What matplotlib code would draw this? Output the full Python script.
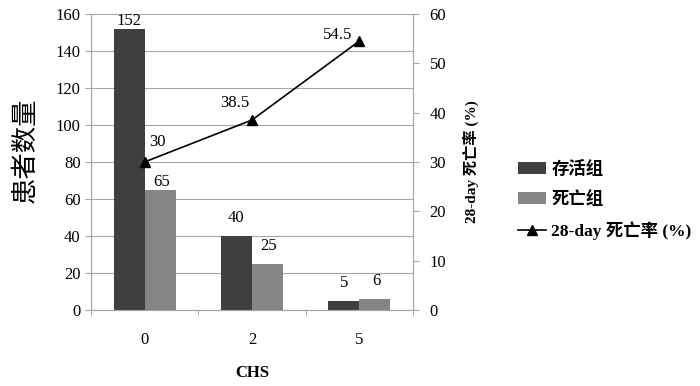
import matplotlib
matplotlib.use("Agg")
import matplotlib.pyplot as plt
import numpy as np

categories = ["0", "2", "5"]
survived = [152, 40, 5]
died = [65, 25, 6]
mortality = [30, 38.5, 54.5]

FAM = ["Liberation Serif", "Noto Sans CJK SC"]
plt.rcParams["font.family"] = FAM
DARK, LIGHT, GRID = "#3f3f3f", "#858585", "#a6a6a6"
FS = 12

fig = plt.figure(figsize=(7.0, 3.86), dpi=100)
ax = fig.add_axes([0.13, 0.197, 0.46, 0.767])
ax2 = ax.twinx()

x = np.arange(len(categories))
w = 0.29
b1 = ax.bar(x - w / 2, survived, w, color=DARK, label="存活组", zorder=3)
b2 = ax.bar(x + w / 2, died, w, color=LIGHT, label="死亡组", zorder=3)
# label gap above bar top, in points (Excel placed them a bit unevenly)
gaps = {(0, 0): 0, (1, 0): 0, (0, 1): 7, (1, 1): 7, (0, 2): 7, (1, 2): 7}
for s, (rects, vals) in enumerate([(b1, survived), (b2, died)]):
    for i, (r, v) in enumerate(zip(rects, vals)):
        ax.annotate(f"{v:g}", (r.get_x() + r.get_width() / 2, v),
                    xytext=(1 if s else 0, gaps[(s, i)]), textcoords="offset points",
                    ha="center", va="bottom", fontsize=FS)

ax.set_xlim(-0.5, len(categories) - 0.5)
ax.set_ylim(0, 160)
ax.set_yticks(range(0, 161, 20))
ax.set_xticks(x)
ax.set_xticklabels(categories, fontsize=FS)
ax.set_xticks(np.arange(-0.5, len(categories)), minor=True)
ax.tick_params(axis="x", which="major", length=0, pad=16)
ax.tick_params(axis="x", which="minor", length=4, color=GRID)
ax.tick_params(axis="y", length=4, color=GRID, labelsize=FS)
ax.grid(axis="y", color=GRID, lw=0.8, zorder=0)
ax.set_axisbelow(True)
ax.set_xlabel("CHS", fontsize=FS, fontweight="bold", labelpad=12)
ax.set_ylabel("患者数量", fontsize=19)
ax.yaxis.set_label_coords(-0.165, 0.54)

ln, = ax2.plot(x, mortality, color="black", lw=1.2, marker="^", markersize=7,
               label="28-day 死亡率 (%)", zorder=4)
offsets = [(0.12, 4.0), (-0.16, 3.5), (-0.2, 1.2)]
for xi, v, (dx, dy) in zip(x, mortality, offsets):
    ax2.text(xi + dx, v + dy, f"{v:g}", ha="center", va="center", fontsize=FS)
ax2.set_ylim(0, 60)
ax2.set_yticks(range(0, 61, 10))
ax2.tick_params(axis="y", length=4, color=GRID, labelsize=FS, pad=8)
ax2.set_ylabel("28-day 死亡率 (%)", fontsize=11, fontweight="bold", labelpad=12)

for a in (ax, ax2):
    for s in a.spines.values():
        s.set_color(GRID)
    a.spines["top"].set_visible(False)

fig.legend(handles=[b1, b2, ln], loc="center left", bbox_to_anchor=(0.718, 0.48),
           frameon=False, prop={"family": FAM, "size": 12.5, "weight": "bold"},
           handlelength=1.6, handletextpad=0.3, labelspacing=0.75)

fig.savefig("out.png", dpi=100)
